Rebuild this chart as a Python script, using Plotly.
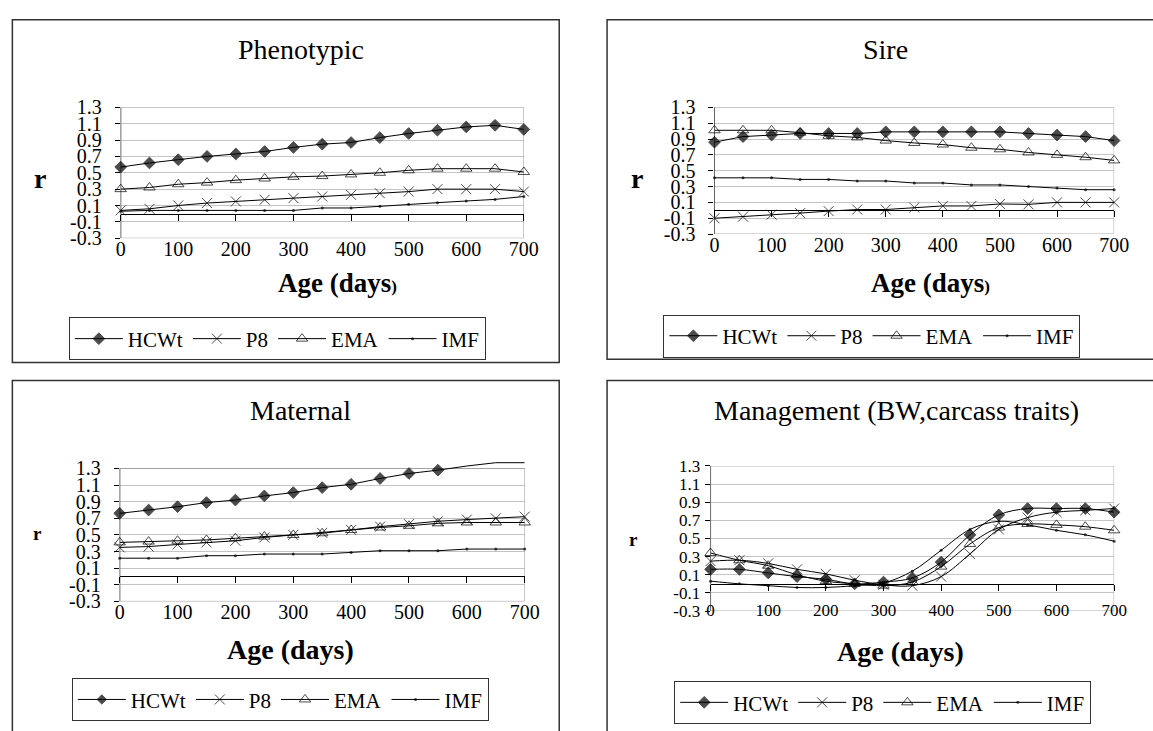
import plotly.graph_objects as go

W, H = 1153, 731

ages = [0, 50, 100, 150, 200, 250, 300, 350, 400, 450, 500, 550, 600, 650, 700]
x_tick_vals = [0, 100, 200, 300, 400, 500, 600, 700]
x_tick_text = ["0", "100", "200", "300", "400", "500", "600", "700"]
y_tick_vals = [-0.3, -0.1, 0.1, 0.3, 0.5, 0.7, 0.9, 1.1, 1.3]
y_tick_text = ["-0.3", "-0.1", "0.1", "0.3", "0.5", "0.7", "0.9", "1.1", "1.3"]
series_names = ["HCWt", "P8", "EMA", "IMF"]

# Phenotypic
hcwt_p = [0.57, 0.62, 0.66, 0.70, 0.73, 0.76, 0.81, 0.85, 0.87, 0.93, 0.98, 1.02, 1.06, 1.08, 1.03]
p8_p = [0.04, 0.06, 0.10, 0.13, 0.15, 0.17, 0.19, 0.21, 0.23, 0.25, 0.27, 0.30, 0.30, 0.30, 0.27]
ema_p = [0.30, 0.32, 0.36, 0.38, 0.41, 0.43, 0.45, 0.46, 0.48, 0.50, 0.53, 0.55, 0.55, 0.55, 0.51]
imf_p = [0.03, 0.04, 0.04, 0.04, 0.04, 0.04, 0.04, 0.07, 0.07, 0.09, 0.115, 0.135, 0.155, 0.175, 0.21]

# Sire
hcwt_s = [0.86, 0.93, 0.95, 0.97, 0.97, 0.97, 0.99, 0.99, 0.99, 0.99, 0.99, 0.97, 0.95, 0.93, 0.88]
p8_s = [-0.10, -0.08, -0.055, -0.035, -0.01, 0.01, 0.01, 0.035, 0.055, 0.055, 0.08, 0.075, 0.10, 0.10, 0.10]
ema_s = [1.01, 1.01, 1.01, 0.98, 0.94, 0.92, 0.88, 0.85, 0.83, 0.79, 0.77, 0.73, 0.70, 0.67, 0.63]
imf_s = [0.41, 0.41, 0.41, 0.39, 0.39, 0.37, 0.37, 0.345, 0.345, 0.32, 0.32, 0.30, 0.28, 0.26, 0.26]

# Maternal
hcwt_m = [0.76, 0.80, 0.84, 0.89, 0.92, 0.97, 1.01, 1.07, 1.11, 1.18, 1.24, 1.28, 1.33, 1.37, 1.37]
p8_m = [0.35, 0.36, 0.385, 0.41, 0.43, 0.47, 0.50, 0.525, 0.56, 0.60, 0.63, 0.665, 0.685, 0.70, 0.72]
ema_m = [0.41, 0.42, 0.43, 0.44, 0.46, 0.48, 0.50, 0.52, 0.56, 0.59, 0.61, 0.64, 0.65, 0.65, 0.65]
imf_m = [0.22, 0.22, 0.22, 0.25, 0.25, 0.27, 0.27, 0.27, 0.29, 0.31, 0.31, 0.31, 0.33, 0.33, 0.33]

# Management (BW, carcass traits)
hcwt_g = [0.16, 0.16, 0.12, 0.08, 0.05, 0.00, 0.02, 0.065, 0.24, 0.54, 0.76, 0.83, 0.83, 0.83, 0.79]
p8_g = [0.25, 0.26, 0.225, 0.16, 0.11, 0.04, -0.01, -0.02, 0.08, 0.33, 0.60, 0.73, 0.79, 0.81, 0.83]
ema_g = [0.34, 0.26, 0.20, 0.10, 0.03, 0.00, -0.02, 0.02, 0.19, 0.44, 0.62, 0.66, 0.65, 0.63, 0.59]
imf_g = [0.03, 0.00, -0.02, -0.04, -0.04, -0.02, 0.01, 0.14, 0.37, 0.60, 0.69, 0.65, 0.59, 0.54, 0.47]

FONT = "Liberation Serif"


def px(v):
    return v / W


def py(v):
    return 1 - v / H


# panel layout in page pixels: plot left, right, top(1.3), bottom(-0.3)
panels = [
    dict(title="Phenotypic", data=[hcwt_p, p8_p, ema_p, imf_p], l=117.7, r=528.0, t=99.3, b=234.3,
         ymax=1.3, shape="linear", tickfont=20, ystand=9, xstand=-3,
         box=(7.5, 9, 564, 362.5), title_xy=(301.7, 40), r_xy=(35.7, 173), r_size=28,
         age_xy=(338.7, 280), age_size=27, small_paren=True, leg=(65, 316)),
    dict(title="Sire", data=[hcwt_s, p8_s, ema_s, imf_s], l=722.0, r=1128.7, t=99.3, b=230.0,
         ymax=1.3, shape="linear", tickfont=20, ystand=9, xstand=-3,
         box=(612.7, 9, 1170, 359), title_xy=(896.3, 40), r_xy=(643, 173), r_size=28,
         age_xy=(941.8, 280), age_size=27, small_paren=True, leg=(670, 313)),
    dict(title="Maternal", data=[hcwt_m, p8_m, ema_m, imf_m], l=116.7, r=528.9, t=471.7, b=608.7,
         ymax=1.4, shape="linear", tickfont=20, ystand=9, xstand=-3,
         box=(7.5, 381, 564, 760), title_xy=(300.8, 411.7), r_xy=(33, 539), r_size=19,
         age_xy=(290.8, 658.3), age_size=28, small_paren=False, leg=(68, 688)),
    dict(title="Management (BW,carcass traits)", data=[hcwt_g, p8_g, ema_g, imf_g], l=718.0, r=1128.7,
         t=469.0, b=618.7, ymax=1.3, shape="spline", tickfont=17, ystand=1, xstand=-13,
         box=(612.7, 381, 1170, 760), title_xy=(907.7, 411.7), r_xy=(640, 545), r_size=19,
         age_xy=(911.3, 660), age_size=28, small_paren=False, leg=(681, 691)),
]

markers = [
    dict(symbol="diamond", size=9, color="black", line=dict(color="black", width=1)),
    dict(symbol="x-thin-open", size=10, color="black", line=dict(color="black", width=1)),
    dict(symbol="triangle-up-open", size=10, color="black", line=dict(color="black", width=1)),
    dict(symbol="circle", size=3, color="black", line=dict(width=0)),
]

fig = go.Figure()
layout = dict(width=W, height=H, margin=dict(l=0, r=0, t=0, b=0), paper_bgcolor="white",
              plot_bgcolor="white", font=dict(family=FONT, color="black"), showlegend=True)
shapes = []
annotations = []

for i, p in enumerate(panels):
    k = i + 1
    ks = "" if k == 1 else str(k)
    kl = str(k + 4)
    per_unit = (p["b"] - p["t"]) / 1.6
    top_px = p["t"] - (p["ymax"] - 1.3) * per_unit
    zero_px = p["b"] - 0.3 * per_unit
    legname = "legend" if k == 1 else "legend" + str(k)

    for j, (vals, name) in enumerate(zip(p["data"], series_names)):
        mk = dict(markers[j])
        mk["size"] = [mk["size"] if v <= 1.3 else 0 for v in vals]
        fig.add_trace(go.Scatter(
            x=ages, y=vals, name=name, mode="lines+markers",
            line=dict(color="black", width=1, shape=p["shape"], smoothing=1.0),
            marker=mk, xaxis="x" + ks, yaxis="y" + ks, legend=legname,
            cliponaxis=False, hoverinfo="skip"))
    # invisible carrier trace for the tick-label axis
    fig.add_trace(go.Scatter(x=ages, y=p["data"][3], mode="markers", marker=dict(opacity=0, size=1),
                             xaxis="x" + kl, yaxis="y" + ks, showlegend=False, hoverinfo="skip"))

    layout["xaxis" + ks] = dict(
        domain=[px(p["l"]), px(p["r"])], range=[0, 700], anchor="free", position=py(zero_px),
        showline=True, linecolor="black", linewidth=1, ticks="outside", ticklen=6,
        tickcolor="black", tickvals=x_tick_vals, showticklabels=False, showgrid=False,
        zeroline=False, fixedrange=True)
    layout["xaxis" + kl] = dict(
        overlaying="x" + ks, anchor="y" + ks, side="bottom", range=[0, 700],
        showline=False, ticks="", tickvals=x_tick_vals, ticktext=x_tick_text,
        tickfont=dict(size=p["tickfont"], family=FONT, color="black"),
        ticklabelstandoff=p["xstand"], showgrid=False, zeroline=False, fixedrange=True)
    layout["yaxis" + ks] = dict(
        domain=[py(p["b"]), py(top_px)], range=[-0.3, p["ymax"]], anchor="x" + ks,
        showline=False, ticks="outside", ticklen=5, tickcolor="black", tickvals=y_tick_vals,
        ticktext=y_tick_text, tickfont=dict(size=p["tickfont"], family=FONT, color="black"),
        ticklabelstandoff=p["ystand"], showgrid=True, gridcolor="#c4c4c4", gridwidth=1,
        zeroline=False, fixedrange=True)

    # plot-area border (grey) and the black value axis line
    shapes.append(dict(type="rect", xref="x" + ks, yref="y" + ks, x0=0, x1=700, y0=-0.3, y1=1.3,
                       line=dict(color="#a0a0a0", width=1), layer="between"))
    shapes.append(dict(type="line", xref="x" + ks, yref="y" + ks, x0=0, x1=0, y0=-0.3, y1=1.3,
                       line=dict(color="black", width=1), layer="between"))
    # panel frame
    bx0, by0, bx1, by1 = p["box"]
    shapes.append(dict(type="rect", xref="paper", yref="paper", x0=px(bx0), x1=px(bx1),
                       y0=py(by1), y1=py(by0), line=dict(color="#333333", width=1.5)))

    annotations.append(dict(text=p["title"], x=px(p["title_xy"][0]), y=py(p["title_xy"][1]),
                            xref="paper", yref="paper", xanchor="center", yanchor="middle",
                            showarrow=False, font=dict(size=28, family=FONT, color="black")))
    annotations.append(dict(text="<b>r</b>", x=px(p["r_xy"][0]), y=py(p["r_xy"][1]),
                            xref="paper", yref="paper", xanchor="center", yanchor="middle",
                            showarrow=False, font=dict(size=p["r_size"], family=FONT, color="black")))
    age_txt = "<b>Age (days</b><span style='font-size:17px'><b>)</b></span>" if p["small_paren"] else "<b>Age (days)</b>"
    annotations.append(dict(text=age_txt, x=px(p["age_xy"][0]), y=py(p["age_xy"][1]),
                            xref="paper", yref="paper", xanchor="center", yanchor="middle",
                            showarrow=False, font=dict(size=p["age_size"], family=FONT, color="black")))

    layout[legname] = dict(
        orientation="h", x=px(p["leg"][0]), y=py(p["leg"][1]), xanchor="left", yanchor="top",
        bordercolor="#333333", borderwidth=1, bgcolor="white", itemwidth=48,
        font=dict(size=21, family=FONT, color="black"), itemclick=False, itemdoubleclick=False)

layout["shapes"] = shapes
layout["annotations"] = annotations
fig.update_layout(**layout)

fig.write_html("out.html", config={"displayModeBar": False},
               post_script="document.body.style.margin='0';document.body.style.overflow='hidden';")
